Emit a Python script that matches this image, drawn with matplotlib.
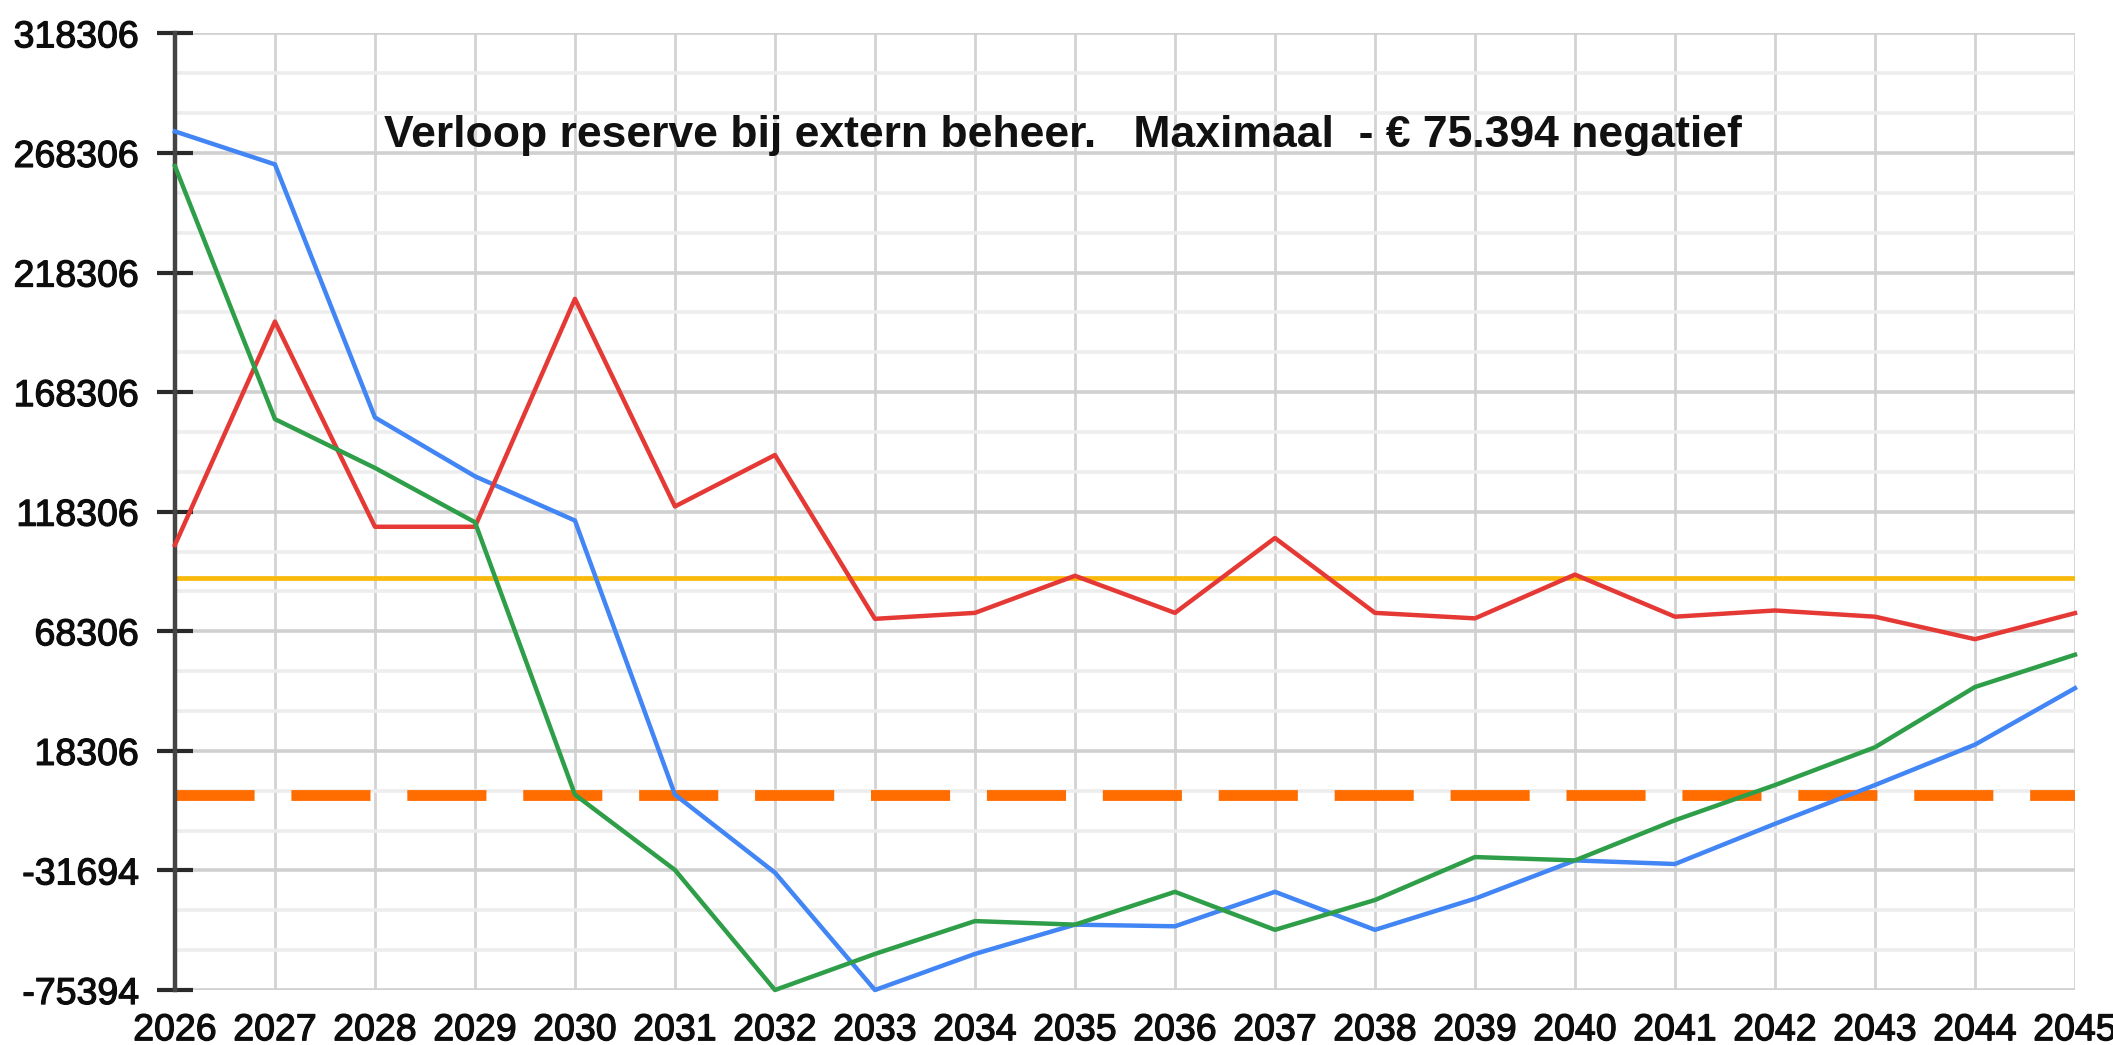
import matplotlib
matplotlib.use('Agg')
import matplotlib.pyplot as plt
import matplotlib.patheffects as pe
import numpy as np
from matplotlib.ticker import FixedLocator

plt.rcParams['font.family'] = ['Liberation Sans', 'DejaVu Sans']

years = list(range(2026, 2046))
blue = [277300, 263500, 157700, 133100, 114600, 0, -32500, -75394, -62200, -51500,
        -52100, -39500, -53400, -42000, -27500, -29000, -12200, 4000, 20900, 44500]
green = [262800, 157000, 136600, 113900, 0, -31500, -75394, -62200, -50200, -51500,
         -39500, -53400, -42500, -26100, -27500, -10700, 4000, 19800, 45000, 58500]
red = [104400, 197800, 112000, 112000, 207300, 120500, 142000, 73500, 76000, 91500,
       76000, 107300, 76000, 73700, 92000, 74400, 77000, 74400, 65000, 75900]
threshold = 90500
zero_line = 0

ytick_values = [-75394, -31694, 18306, 68306, 118306, 168306, 218306, 268306, 318306]
ytick_labels = ['-75394', '-31694', '18306', '68306', '118306', '168306', '218306', '268306', '318306']
title = 'Verloop reserve bij extern beheer.   Maximaal  - \u20ac 75.394 negatief'

# the axis is drawn with equally spaced ticks although the bottom step is smaller
yt = np.array(ytick_values, dtype=float)
idx = np.arange(len(yt), dtype=float)


def fwd(v):
    v = np.asarray(v, dtype=float)
    lo = (v - yt[0]) / (yt[1] - yt[0])
    hi = 1 + (v - yt[1]) / (yt[2] - yt[1])
    return np.where(v < yt[1], lo, hi)


def inv(i):
    i = np.asarray(i, dtype=float)
    lo = yt[0] + i * (yt[1] - yt[0])
    hi = yt[1] + (i - 1) * (yt[2] - yt[1])
    return np.where(i < 1, lo, hi)


fig = plt.figure(figsize=(21.13, 10.45), dpi=100)
ax = fig.add_axes([0.0828, 0.0526, 0.982 - 0.0828, 0.9681 - 0.0526])
ax.set_yscale('function', functions=(fwd, inv))
ax.set_xlim(years[0], years[-1])
ax.set_ylim(ytick_values[0], ytick_values[-1])

minor = [float(inv(i + k / 3.0)) for i in idx[:-1] for k in (1, 2)]
ax.yaxis.set_major_locator(FixedLocator(ytick_values))
ax.yaxis.set_minor_locator(FixedLocator(minor))
ax.set_yticklabels(ytick_labels)
ax.set_xticks(years)
ax.set_xticklabels([str(y) for y in years])

ax.grid(axis='y', which='major', color='#d0d0d0', lw=2.6, zorder=0)
ax.grid(axis='y', which='minor', color='#ededed', lw=2.6, zorder=0)
ax.grid(axis='x', which='major', color='#d3d3d3', lw=2.0, zorder=0)
ax.set_axisbelow(True)

for s in ['top', 'right', 'bottom']:
    ax.spines[s].set_visible(False)
ax.spines['left'].set_color('#444444')
ax.spines['left'].set_linewidth(3.2)

ax.tick_params(axis='y', which='major', direction='inout', length=26, width=3,
               color='#2a2a2a', labelsize=27, pad=13, labelcolor='#0d0d0d')
ax.tick_params(axis='y', which='minor', length=0)
ax.tick_params(axis='x', length=0, labelsize=27, pad=16, labelcolor='#0d0d0d')
for lab in ax.get_xticklabels() + ax.get_yticklabels():
    lab.set_path_effects([pe.withStroke(linewidth=0.9, foreground='#0d0d0d')])

ax.plot(years, [threshold] * len(years), color='#F9B90A', lw=3.4, zorder=2)
ax.plot(years, [zero_line] * len(years), color='#FF6D01', lw=7.8,
        linestyle=(0, (7.3, 3.4)), dash_capstyle='butt', zorder=2)
ax.plot(years, blue, color='#4285F4', lw=3.2, zorder=3, clip_on=False)
ax.plot(years, red, color='#E53935', lw=3.2, zorder=3, clip_on=False)
ax.plot(years, green, color='#2E9E48', lw=3.2, zorder=4, clip_on=False)

fig.text(384 / 2113, 1 - 147 / 1045, title, fontsize=32, fontweight='bold',
         ha='left', va='baseline', color='#111111')

fig.savefig('out.png', dpi=100, facecolor='white')
